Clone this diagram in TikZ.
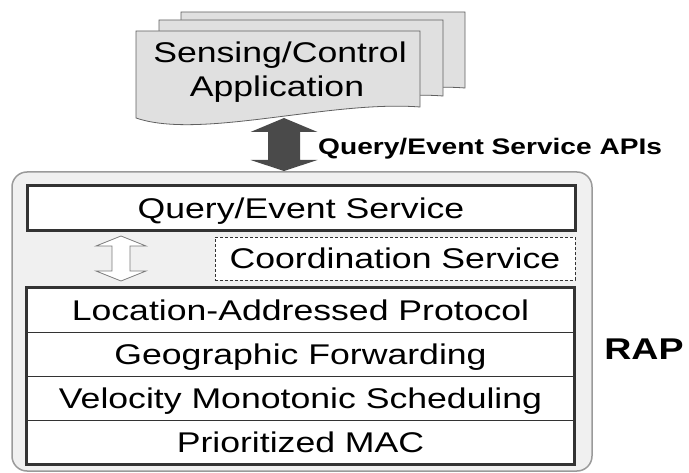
\documentclass[tikz,border=0pt]{standalone}
\usepackage{fontspec}
\newfontfamily\rapfont{Liberation Sans}[FakeStretch=1.25]
\usetikzlibrary{calc}
\definecolor{outerfill}{HTML}{F0F0F0}
\definecolor{outerline}{HTML}{9A9A9A}
\definecolor{boxline}{HTML}{333333}
\definecolor{darkarrow}{HTML}{4A4A4A}
\definecolor{sheetfill}{HTML}{E0E0E0}
\definecolor{sheetline}{HTML}{606060}
\definecolor{hollowline}{HTML}{7A7A7A}
\begin{document}
\begin{tikzpicture}[x=1pt,y=-1pt,
  txt/.style={font=\rapfont\fontsize{28.5}{34}\selectfont, inner sep=0pt, text height=20.4pt, text depth=0pt},
  thickbox/.style={txt, draw=boxline, line width=3pt, fill=white},
  dashbox/.style={txt, draw=boxline, line width=0.9pt, dash pattern=on 3pt off 2pt, fill=white},
  rowbox/.style={txt, draw=boxline, line width=0.8pt, fill=white, minimum width=547pt, minimum height=44pt},
  apilabel/.style={font=\rapfont\bfseries\fontsize{22.5}{27}\selectfont, inner sep=0pt, text height=16.1pt, text depth=0pt},
  raplabel/.style={font=\rapfont\bfseries\fontsize{30}{36}\selectfont, inner sep=0pt, text height=21.5pt, text depth=0pt},
  sheet/.pic={\path[fill=sheetfill, draw=sheetline, line width=0.8pt]
     (0,0) -- (284,0) -- (284,76) .. controls (194,69) and (64,109) .. (0,87) -- cycle;}
]
\useasboundingbox (0,0) rectangle (689,473);

% outer RAP container
\node[draw=outerline, fill=outerfill, line width=1.5pt, rounded corners=15pt,
      minimum width=580pt, minimum height=299pt, inner sep=0pt] (rapbox) at (302,321.5) {};

% application stack
\pic at (181,12) {sheet};
\pic at (159,20) {sheet};
\pic at (136,31) {sheet};
\node[txt] (app1) at (280,52) {Sensing/Control};
\node[txt] (app2) at (277,86) {Application};

% dark double arrow (API)
\coordinate (apiT) at (284,118);
\coordinate (apiB) at (284,171);
\fill[darkarrow] (apiT) -- ++(33.5,14) -- ++(-17.5,0) -- ++(0,28) -- ++(17.5,0)
   -- (apiB) -- ++(-33.5,-11) -- ++(17.5,0) -- ++(0,-28) -- ++(-17.5,0) -- cycle;
\node[apilabel, anchor=west] (api) at (318,146.5) {Query/Event Service APIs};

% query/event service
\node[thickbox, minimum width=548pt, minimum height=45pt] (qes) at (301,208.5) {Query/Event Service};

% coordination service
\node[dashbox, minimum width=360pt, minimum height=43pt] (coord) at (395,258.5) {Coordination Service};

% hollow double arrow
\coordinate (hT) at (121,236);
\coordinate (hB) at (121,281);
\draw[hollowline, fill=white, line width=0.8pt] (hT) -- ++(25,10) -- ++(-16,0) -- ++(0,25) -- ++(16,0)
   -- (hB) -- ++(-25,-10) -- ++(16,0) -- ++(0,-25) -- ++(-16,0) -- cycle;

% protocol stack rows
\node[rowbox] (r1) at (300.5,310) {Location-Addressed Protocol};
\node[rowbox] (r2) at (300.5,354) {Geographic Forwarding};
\node[rowbox] (r3) at (300.5,398) {Velocity Monotonic Scheduling};
\node[rowbox] (r4) at (300.5,442) {Prioritized MAC};
\draw[boxline, line width=3pt] (r1.north west) rectangle (r4.south east);

% RAP label
\node[raplabel] (rap) at (644,348.5) {RAP};
\end{tikzpicture}
\end{document}
